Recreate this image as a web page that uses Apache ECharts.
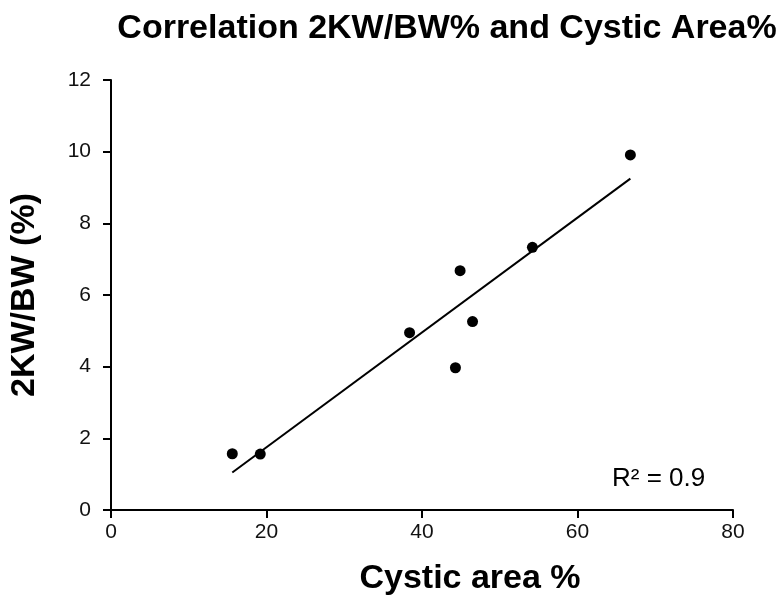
<!DOCTYPE html>
<html><head><meta charset="utf-8">
<script src="https://cdn.jsdelivr.net/npm/echarts@6/dist/echarts.min.js"></script>
<style>html,body{margin:0;padding:0;background:#fff}#c{width:781px;height:598px}</style>
</head><body><div id="c"></div>
<script>
const cysticArea = [15.6, 19.2, 38.4, 44.3, 44.9, 46.5, 54.2, 66.8];
const kwbw = [1.57, 1.56, 4.95, 3.97, 6.68, 5.26, 7.33, 9.91];
const xTicks = [0, 20, 40, 60, 80];
const yTicks = [0, 2, 4, 6, 8, 10, 12];
const titleText = 'Correlation 2KW/BW% and Cystic Area%';
const xName = 'Cystic area %';
const yName = '2KW/BW (%)';
const r2Text = 'R² = 0.9';

// least-squares trendline from the data
const n = cysticArea.length;
const mx = cysticArea.reduce((a,b)=>a+b,0)/n;
const my = kwbw.reduce((a,b)=>a+b,0)/n;
let sxy=0, sxx=0;
for (let i=0;i<n;i++){ sxy+=(cysticArea[i]-mx)*(kwbw[i]-my); sxx+=(cysticArea[i]-mx)**2; }
const slope = sxy/sxx, icpt = my - slope*mx;
const xmin = Math.min(...cysticArea), xmax = Math.max(...cysticArea);
const trend = [[xmin, icpt+slope*xmin],[xmax, icpt+slope*xmax]];

const chart = echarts.init(document.getElementById('c'), null, {renderer:'canvas'});
const font = 'Liberation Sans, Arial, sans-serif';
chart.setOption({
  animation:false,
  title:{text:titleText, left:442, top:7, textAlign:'center',
    textStyle:{fontFamily:font, fontWeight:'bold', fontSize:34, color:'#000'}},
  grid:{left:111, right:48, top:80, bottom:88},
  xAxis:{type:'value', min:0, max:80, interval:20,
    axisLine:{show:true, onZero:false, lineStyle:{color:'#000', width:2}},
    axisTick:{show:true, length:8, lineStyle:{color:'#000', width:2}},
    axisLabel:{fontFamily:font, fontSize:21, color:'#111', margin:12,
      formatter:v=>xTicks.includes(v)?String(v):''},
    splitLine:{show:false}},
  yAxis:{type:'value', min:0, max:12, interval:2,
    name:yName, nameLocation:'middle', nameGap:69, nameRotate:90,
    nameTextStyle:{fontFamily:font, fontWeight:'bold', fontSize:34, color:'#000'},
    axisLine:{show:true, onZero:false, lineStyle:{color:'#000', width:2}},
    axisTick:{show:true, length:8, lineStyle:{color:'#000', width:2}},
    axisLabel:{fontFamily:font, fontSize:21, color:'#111', margin:20,
      formatter:v=>yTicks.includes(v)?String(v):''},
    splitLine:{show:false}},
  graphic:[
    {type:'text', x:470, y:579,
      style:{text:xName, font:'bold 34px Liberation Sans, Arial, sans-serif', fill:'#000',
        textAlign:'center', textVerticalAlign:'middle'}},
    {type:'text', left:612, top:466,
      style:{text:r2Text, font:'26px Liberation Sans, Arial, sans-serif', fill:'#000'}}],
  series:[
    {type:'line', data:trend, symbol:'none', lineStyle:{color:'#000', width:2}, z:2},
    {type:'scatter', data:cysticArea.map((x,i)=>[x,kwbw[i]]), symbolSize:11,
      itemStyle:{color:'#000', opacity:1}, z:3}
  ]
});
</script></body></html>
